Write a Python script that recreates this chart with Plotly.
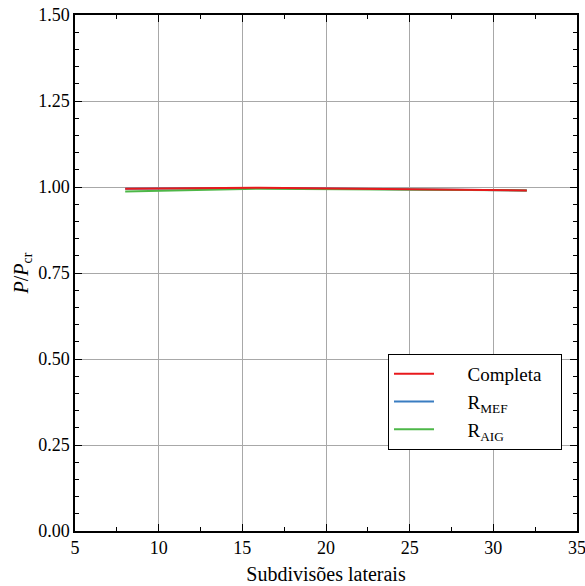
import plotly.graph_objects as go

x_sub = [8, 16, 32]
completa = [0.995, 0.998, 0.990]
r_mef = [0.995, 0.997, 0.990]
r_aig = [0.987, 0.995, 0.990]

names = ["Completa", "R<sub>MEF</sub>", "R<sub>AIG</sub>"]
colors = ["#e8191c", "#3a7dc1", "#4db748"]

FAM = "Liberation Serif"
PAD_L = "\u00a0" * 6
PAD_R = "\u00a0" * 3

fig = go.Figure()
# draw order: blue, green, red on top
for idx, ys in [(1, r_mef), (2, r_aig), (0, completa)]:
    fig.add_trace(go.Scatter(x=x_sub, y=ys, mode="lines", name=PAD_L + names[idx] + PAD_R,
                             line=dict(color=colors[idx], width=2),
                             legendrank=idx + 1))

tfont = dict(family=FAM, size=18, color="black")
lfont = dict(family=FAM, size=20, color="black")
axis_common = dict(showline=True, linecolor="black", linewidth=1.5, mirror="allticks",
                   ticks="inside", ticklen=7, tickwidth=1, tickcolor="black",
                   showgrid=True, gridcolor="#a8a8a8", gridwidth=1, zeroline=False,
                   tickfont=tfont, automargin=False, ticklabeloverflow="allow")
fig.update_xaxes(range=[5, 35], dtick=5, tick0=5,
                 minor=dict(ticks="inside", ticklen=4, dtick=2.5, tick0=5, tickcolor="black", showgrid=False),
                 title=dict(text="Subdivisões laterais", font=lfont, standoff=10), **axis_common)
fig.update_yaxes(range=[0, 1.5], dtick=0.25, tickformat=".2f",
                 minor=dict(ticks="inside", ticklen=4, dtick=0.05, tick0=0, tickcolor="black", showgrid=False),
                 title=dict(text="<i>P</i>/<i>P</i><sub>cr</sub>", font=lfont, standoff=4), **axis_common)
fig.update_layout(width=585, height=586, margin=dict(l=75, r=8, t=15, b=55),
                  plot_bgcolor="white", paper_bgcolor="white", font=tfont,
                  legend=dict(x=0.6235, y=0.343, xanchor="left", yanchor="top",
                              bgcolor="white", bordercolor="black", borderwidth=1,
                              font=dict(family=FAM, size=19, color="black"),
                              itemwidth=40, tracegroupgap=0))
# remove the default 8px page margin so the figure fills the window exactly
fig.write_html("out.html", config={"displayModeBar": False},
               post_script="document.body.style.margin='0px';")
